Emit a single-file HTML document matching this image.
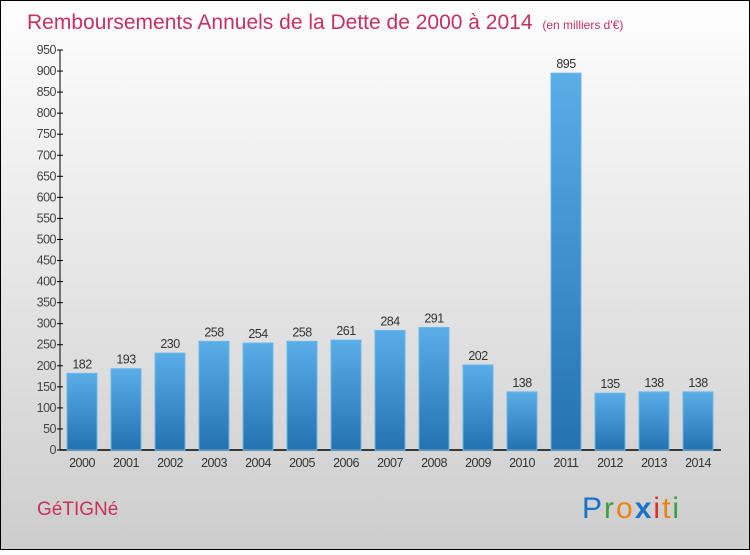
<!DOCTYPE html>
<html><head><meta charset="utf-8"><style>
body{margin:0}
svg text{font-family:"Liberation Sans",sans-serif}
</style></head><body>
<svg width="750" height="550" xmlns="http://www.w3.org/2000/svg">
<defs>
<linearGradient id="bg" x1="0" y1="0" x2="0" y2="1"><stop offset="0" stop-color="#fefefe"/><stop offset="1" stop-color="#cdcdcd"/></linearGradient>
<linearGradient id="bar" x1="0" y1="0" x2="0" y2="1"><stop offset="0" stop-color="#5aaee8"/><stop offset="1" stop-color="#2472b0"/></linearGradient>
</defs>
<rect x="0.5" y="0.5" width="749" height="549" fill="url(#bg)" stroke="#000"/>
<text x="27" y="29" font-size="21" fill="#c8305e">Remboursements Annuels de la Dette de 2000 à 2014 <tspan font-size="12" dx="4">(en milliers d'€)</tspan></text>
<g id="yaxis"></g><g id="bars"></g>
<text x="37" y="515" font-size="19" fill="#c8305e">GéTIGNé</text>
<text x="582" y="518" font-size="30" letter-spacing="2"><tspan fill="#1a73c8">P</tspan><tspan fill="#3aa040">r</tspan><tspan fill="#f08010">o</tspan><tspan fill="#1a73c8" font-weight="bold">x</tspan><tspan fill="#e03020">i</tspan><tspan fill="#f08010">t</tspan><tspan fill="#3aa040">i</tspan></text>
</svg>
<script>
const years=["2000","2001","2002","2003","2004","2005","2006","2007","2008","2009","2010","2011","2012","2013","2014"];
const values=[182,193,230,258,254,258,261,284,291,202,138,895,135,138,138];
const yTicks=[0,50,100,150,200,250,300,350,400,450,500,550,600,650,700,750,800,850,900,950];
const NS="http://www.w3.org/2000/svg";
const y=v=>450-v*400/950;
const x=i=>67+i*44;
function mk(t,a,p){const e=document.createElementNS(NS,t);for(const k in a)e.setAttribute(k,a[k]);p.appendChild(e);return e;}
const ya=document.getElementById('yaxis');
let l=mk('line',{x1:60,y1:50,x2:60,y2:450,stroke:'#000'},ya);


l=mk('line',{x1:60,y1:450,x2:721,y2:450,stroke:'#000','stroke-width':1.5},ya);


yTicks.forEach(v=>{
  mk('line',{x1:57,x2:63,y1:y(v),y2:y(v),stroke:'#000'},ya);
  const t=mk('text',{x:56,y:y(v)+4,'font-size':12.5,'text-anchor':'end',fill:'#444','letter-spacing':'-0.5'},ya);
  t.textContent=v;
  
  
});
const bg=document.getElementById('bars');
values.forEach((v,i)=>{
  const r=mk('rect',{x:x(i),y:y(v),width:30,height:450-y(v),fill:'url(#bar)',stroke:'#6ab8ee','stroke-width':1},bg);
  
  
  const t=mk('text',{x:x(i)+15,y:y(v)-5,'font-size':12.5,'text-anchor':'middle',fill:'#333','letter-spacing':'-0.5'},bg);
  t.textContent=v;
  
  
  const xl=mk('text',{x:x(i)+15,y:467,'font-size':12.5,'text-anchor':'middle',fill:'#333','letter-spacing':'-0.5'},bg);
  xl.textContent=years[i];
  
  
});
</script>
</body></html>
